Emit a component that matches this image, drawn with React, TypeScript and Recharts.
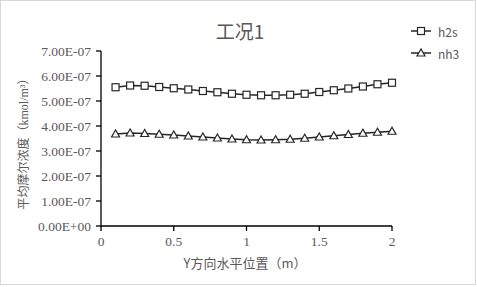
import React from 'react';
import { LineChart, Line, XAxis, YAxis, Customized } from 'recharts';

const xPositions = [0.1, 0.2, 0.3, 0.4, 0.5, 0.6, 0.7, 0.8, 0.9, 1.0, 1.1, 1.2, 1.3, 1.4, 1.5, 1.6, 1.7, 1.8, 1.9, 2.0];
const h2sValues = [5.55e-7, 5.62e-7, 5.61e-7, 5.56e-7, 5.51e-7, 5.46e-7, 5.4e-7, 5.35e-7, 5.29e-7, 5.25e-7, 5.23e-7, 5.23e-7, 5.25e-7, 5.29e-7, 5.36e-7, 5.43e-7, 5.5e-7, 5.58e-7, 5.67e-7, 5.73e-7];
const nh3Values = [3.68e-7, 3.72e-7, 3.7e-7, 3.67e-7, 3.64e-7, 3.6e-7, 3.56e-7, 3.52e-7, 3.48e-7, 3.45e-7, 3.44e-7, 3.45e-7, 3.47e-7, 3.51e-7, 3.56e-7, 3.61e-7, 3.66e-7, 3.71e-7, 3.75e-7, 3.79e-7];
const xTicks = [0, 0.5, 1, 1.5, 2];
const yTicks = [0, 1e-7, 2e-7, 3e-7, 4e-7, 5e-7, 6e-7, 7e-7];
const title = '工况1';
const xLabel = 'Y方向水平位置（m）';
const yLabel = '平均摩尔浓度（kmol/m³）';
const seriesNames = ['h2s', 'nh3'];

const data = xPositions.map((x, i) => ({ x, h2s: h2sValues[i], nh3: nh3Values[i] }));

const fmt = (v: number) => {
  const [m, e] = v.toExponential(2).split('e');
  const sign = e.startsWith('-') ? '-' : '+';
  const n = Math.abs(parseInt(e, 10));
  return `${m}E${sign}${n < 10 ? '0' + n : n}`;
};

const GRAY = '#595959';
const LINE = '#262626';
const SERIF = "'Liberation Serif', 'Times New Roman', 'DejaVu Serif', 'Noto Sans CJK SC', serif";
const SANS = "'Noto Sans CJK SC', 'Noto Sans', sans-serif";

const Square = (props: any) => {
  const { cx, cy, index } = props;
  if (cx == null || cy == null) return null;
  return <rect key={`s${index}`} x={cx - 3.5} y={cy - 3.5} width={7} height={7} fill="#fff" stroke={LINE} strokeWidth={1.2} />;
};
const Triangle = (props: any) => {
  const { cx, cy, index } = props;
  if (cx == null || cy == null) return null;
  return <polygon key={`t${index}`} points={`${cx},${cy - 4} ${cx - 4},${cy + 3} ${cx + 4},${cy + 3}`} fill="#fff" stroke={LINE} strokeWidth={1.2} />;
};

const SerifTick = (props: any) => {
  const { x, y, payload, textAnchor, axis } = props;
  const label = axis === 'y' ? fmt(payload.value) : String(payload.value);
  return (
    <text x={x} y={y} textAnchor={textAnchor} dominantBaseline="central" fill={GRAY} fontFamily={SERIF} fontSize={13.5}>
      {label}
    </text>
  );
};

const Decor = () => (
  <g>
    <rect x={0.5} y={0.5} width={475} height={284} fill="none" stroke="#d9d9d9" />
    <text x={240} y={30} textAnchor="middle" dominantBaseline="central" fontFamily={SANS} fontSize={19} fill={GRAY}>{title}</text>
    <text x={245} y={262} textAnchor="middle" dominantBaseline="central" fontFamily={SANS} fontSize={13} fill={GRAY}>{xLabel}</text>
    <text x={24} y={141} textAnchor="middle" dominantBaseline="central" fontFamily={SERIF} fontSize={12} fill={GRAY} transform="rotate(-90 24 141)">{yLabel}</text>
    <g>
      <line x1={411} x2={431} y1={31} y2={31} stroke={LINE} strokeWidth={1.5} />
      <rect x={417.5} y={27.5} width={7} height={7} fill="#fff" stroke={LINE} strokeWidth={1.2} />
      <text x={438} y={31} dominantBaseline="central" fontFamily={SANS} fontSize={12} fill={GRAY}>{seriesNames[0]}</text>
      <line x1={411} x2={431} y1={53} y2={53} stroke={LINE} strokeWidth={1.5} />
      <polygon points="421,49 417,56 425,56" fill="#fff" stroke={LINE} strokeWidth={1.2} />
      <text x={438} y={53} dominantBaseline="central" fontFamily={SANS} fontSize={12} fill={GRAY}>{seriesNames[1]}</text>
    </g>
  </g>
);

export default function App() {
  return (
    <div style={{ position: 'absolute', left: 0, top: 0, width: 477, height: 287, background: '#fff' }}>
      <LineChart width={477} height={287} data={data} margin={{ top: 51, right: 85, bottom: 31, left: 0 }}>
        <Customized component={Decor} />
        <XAxis
          dataKey="x"
          type="number"
          domain={[0, 2]}
          ticks={xTicks}
          height={30}
          axisLine={{ stroke: '#000', strokeWidth: 1.3 }}
          tickLine={{ stroke: '#000', strokeWidth: 1.3 }}
          tickSize={5}
          tickMargin={4}
          tick={(p: any) => <SerifTick {...p} axis="x" y={p.y + 6} />}
          interval={0}
        />
        <YAxis
          type="number"
          domain={[0, 7e-7]}
          ticks={yTicks}
          width={101}
          axisLine={{ stroke: '#000', strokeWidth: 1.3 }}
          tickLine={{ stroke: '#000', strokeWidth: 1.3 }}
          tickSize={5}
          tickMargin={5}
          tick={(p: any) => <SerifTick {...p} axis="y" />}
          interval={0}
        />
        <Line dataKey="h2s" name={seriesNames[0]} stroke={LINE} strokeWidth={1.5} dot={Square} activeDot={false} isAnimationActive={false} />
        <Line dataKey="nh3" name={seriesNames[1]} stroke={LINE} strokeWidth={1.5} dot={Triangle} activeDot={false} isAnimationActive={false} />
      </LineChart>
    </div>
  );
}
